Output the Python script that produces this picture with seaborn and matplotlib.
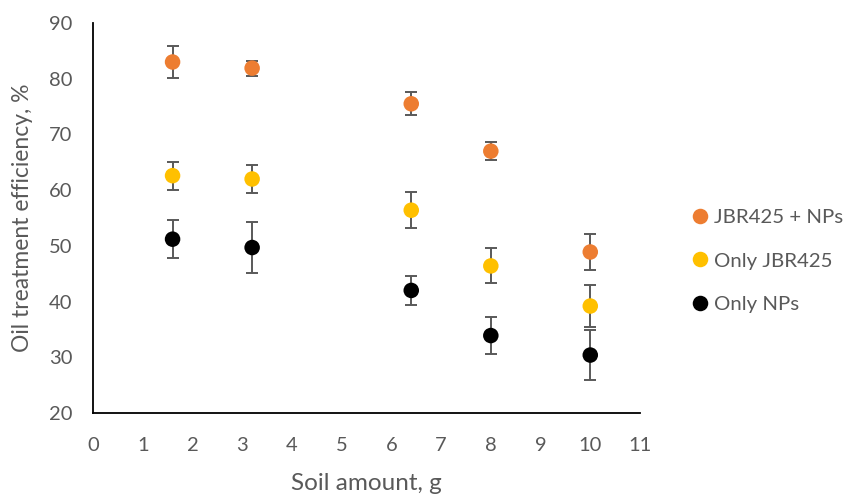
import matplotlib
matplotlib.use("Agg")
import matplotlib.pyplot as plt
import seaborn as sns
import pandas as pd

# Soil amounts (g)
soil = [1.6, 3.2, 6.4, 8, 10]

# Oil treatment efficiency (%) and standard deviations per treatment
jbr_nps = [83.0, 81.9, 75.5, 67.0, 48.9]
jbr_nps_err = [2.8, 1.35, 2.05, 1.6, 3.3]

only_jbr = [62.6, 62.0, 56.4, 46.4, 39.2]
only_jbr_err = [2.5, 2.6, 3.2, 3.15, 3.85]

only_nps = [51.2, 49.7, 42.0, 33.9, 30.4]
only_nps_err = [3.4, 4.6, 2.65, 3.4, 4.5]

series_names = ["JBR425 + NPs", "Only JBR425", "Only NPs"]
colors = ["#ED7D31", "#FFC000", "#000000"]

frames = []
for name, vals, errs in zip(series_names,
                            [jbr_nps, only_jbr, only_nps],
                            [jbr_nps_err, only_jbr_err, only_nps_err]):
    frames.append(pd.DataFrame({"soil": soil, "eff": vals, "err": errs, "group": name}))
df = pd.concat(frames, ignore_index=True)

sns.set_theme(style="white")
plt.rcParams["font.family"] = ["Lato", "DejaVu Sans"]

fig = plt.figure(figsize=(8.46, 4.94), dpi=100)
ax = fig.add_axes([93 / 846, 1 - 413 / 494, (640 - 93) / 846, (413 - 23) / 494])

grey = "#595959"
for name, color in zip(series_names, colors):
    sub = df[df["group"] == name]
    ax.errorbar(sub["soil"], sub["eff"], yerr=sub["err"], fmt="none",
                ecolor=grey, elinewidth=1.4, capsize=4.5, capthick=1.4, zorder=2)

sns.scatterplot(data=df, x="soil", y="eff", hue="group", hue_order=series_names,
                palette=colors, s=125, edgecolor="none", ax=ax, zorder=3)

ax.set_xlim(0, 11)
ax.set_ylim(20, 90)
ax.set_xticks(range(0, 12))
ax.set_yticks(range(20, 91, 10))

for side in ["top", "right"]:
    ax.spines[side].set_visible(False)
for side in ["left", "bottom"]:
    ax.spines[side].set_color("black")
    ax.spines[side].set_linewidth(1.3)

ax.tick_params(axis="both", direction="in", length=5, width=1.3, color="black",
               labelsize=14.5, labelcolor=grey)
ax.tick_params(axis="y", pad=15)
ax.tick_params(axis="x", pad=17)

ax.set_xlabel("Soil amount, g", fontsize=17.5, color=grey, labelpad=14)
ax.set_ylabel("Oil treatment efficiency, %", fontsize=16.5, color=grey, labelpad=11)

leg = ax.legend(loc="center left", bbox_to_anchor=(1.065, 0.39), frameon=False,
                fontsize=14.7, labelspacing=1.3, handletextpad=-0.12,
                handlelength=1.6, borderaxespad=0)
for t in leg.get_texts():
    t.set_color(grey)

fig.savefig("out.png", dpi=100)
